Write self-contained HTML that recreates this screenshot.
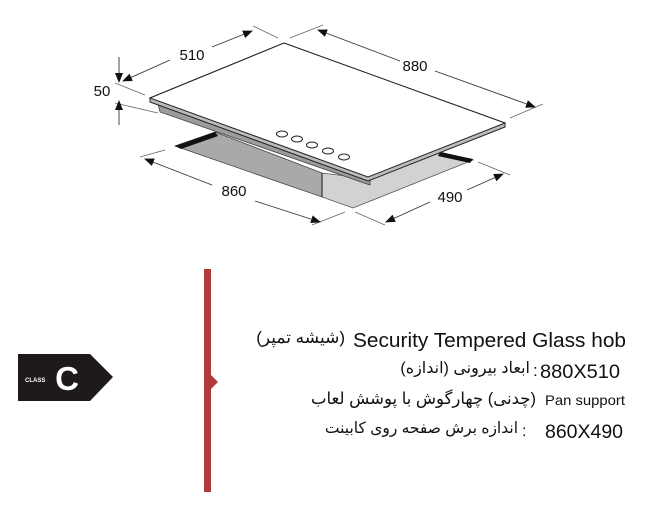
<!DOCTYPE html>
<html><head><meta charset="utf-8"><style>
html,body{margin:0;padding:0;background:#fff;}
svg{display:block;position:absolute;left:0;top:0;}
text{font-family:"Liberation Sans","Noto Sans CJK SC","DejaVu Sans",sans-serif;fill:#111;}
.fa{position:absolute;font-family:"Liberation Sans","DejaVu Sans",sans-serif;color:#111;white-space:nowrap;direction:rtl;unicode-bidi:embed;text-align:right;line-height:1;}
</style></head><body>
<svg width="658" height="510" viewBox="0 0 658 510" xmlns="http://www.w3.org/2000/svg">
<defs>
<marker id="ar" markerWidth="10" markerHeight="8" refX="9" refY="4" orient="auto" markerUnits="userSpaceOnUse">
<path d="M0,0 L10,4 L0,8 Z" fill="#111"/>
</marker>
</defs>
<polygon points="175,146 215,132 322,173 322,197" fill="#a9a9a9" stroke="#444" stroke-width="0.8"/>
<polygon points="175,146 215,132 218,136 181,149" fill="#111"/>
<polygon points="322,173 370,179 440,152 473,160 353,208 322,197" fill="#d2d2d2" stroke="#555" stroke-width="0.8"/>
<polygon points="440,152 473,159 470,163 438,156" fill="#111"/>
<line x1="322" y1="173" x2="322" y2="197" stroke="#333" stroke-width="1.2"/>
<polygon points="158,104 370,178 370,185 160,112" fill="#9c9c9c" stroke="#444" stroke-width="0.8"/>
<polygon points="150,98 284,43 505,123 505,127 368,181 150,102" fill="#bbb" stroke="#222" stroke-width="1"/>
<polygon points="150,98 284,43 505,123 368,177" fill="#fff" stroke="#222" stroke-width="1"/>
<g fill="#fff" stroke="#222" stroke-width="1">
<ellipse cx="282" cy="134" rx="5.5" ry="3"/>
<ellipse cx="297" cy="139" rx="5.5" ry="3"/>
<ellipse cx="312" cy="145" rx="5.5" ry="3"/>
<ellipse cx="328" cy="151" rx="5.5" ry="3"/>
<ellipse cx="344" cy="157" rx="5.5" ry="3"/>
</g>
<g stroke="#666" stroke-width="0.8" fill="none">
<line x1="115" y1="83" x2="145" y2="95"/>
<line x1="115" y1="103" x2="158" y2="113"/>
<line x1="253" y1="26" x2="278" y2="38"/>
<line x1="290" y1="38" x2="323" y2="25"/>
<line x1="510" y1="118" x2="543" y2="104"/>
<line x1="140" y1="157" x2="165" y2="150"/>
<line x1="312" y1="225" x2="345" y2="212"/>
<line x1="385" y1="225" x2="355" y2="212"/>
<line x1="478" y1="162" x2="510" y2="175"/>
</g>
<g stroke="#333" stroke-width="0.9" fill="none" marker-end="url(#ar)">
<line x1="119" y1="57" x2="119" y2="82"/>
<line x1="119" y1="125" x2="119" y2="101"/>
<line x1="170" y1="60" x2="123" y2="81"/>
<line x1="212" y1="47" x2="252" y2="31"/>
<line x1="400" y1="61" x2="318" y2="30"/>
<line x1="435" y1="71" x2="535" y2="107"/>
<line x1="212" y1="185" x2="145" y2="159"/>
<line x1="255" y1="201" x2="320" y2="222"/>
<line x1="430" y1="202" x2="386" y2="222"/>
<line x1="467" y1="190" x2="503" y2="174"/>
</g>
<text x="192" y="60" font-size="15" text-anchor="middle">510</text>
<text x="415" y="71" font-size="15" text-anchor="middle">880</text>
<text x="102" y="96" font-size="15" text-anchor="middle">50</text>
<text x="234" y="196" font-size="15" text-anchor="middle">860</text>
<text x="450" y="202" font-size="15" text-anchor="middle">490</text>
<rect x="204" y="269" width="7" height="223" fill="#b03a3a"/>
<polygon points="211,375 218,382 211,389" fill="#b03a3a"/>
<polygon points="18,354 90,354 113,377 90,401 18,401" fill="#1e1a1a"/>
<text x="25" y="382" font-size="6" font-weight="bold" style="fill:#fff">CLASS</text>
<text x="67" y="390" font-size="33" font-weight="bold" text-anchor="middle" style="fill:#fff">C</text>
<text x="353" y="347" font-size="20" textLength="273" lengthAdjust="spacingAndGlyphs">Security Tempered Glass hob</text>
<text x="540" y="378" font-size="19" textLength="80" lengthAdjust="spacingAndGlyphs">880X510</text>
<text x="533" y="376" font-size="17">:</text>
<text x="545" y="405" font-size="14" textLength="80" lengthAdjust="spacingAndGlyphs">Pan support</text>
<text x="545" y="438" font-size="19" textLength="78" lengthAdjust="spacingAndGlyphs">860X490</text>
<text x="522" y="436" font-size="16">:</text>
</svg>
<div class="fa" style="right:313px;top:329px;font-size:17px;">(شیشه تمپر)</div>
<div class="fa" style="right:128px;top:361px;font-size:16px;">ابعاد بیرونی (اندازه)</div>
<div class="fa" style="right:122px;top:391px;font-size:16.5px;">(چدنی) چهارگوش با پوشش لعاب</div>
<div class="fa" style="right:140px;top:421px;font-size:15.5px;">اندازه برش صفحه روی کابینت</div>
</body></html>
